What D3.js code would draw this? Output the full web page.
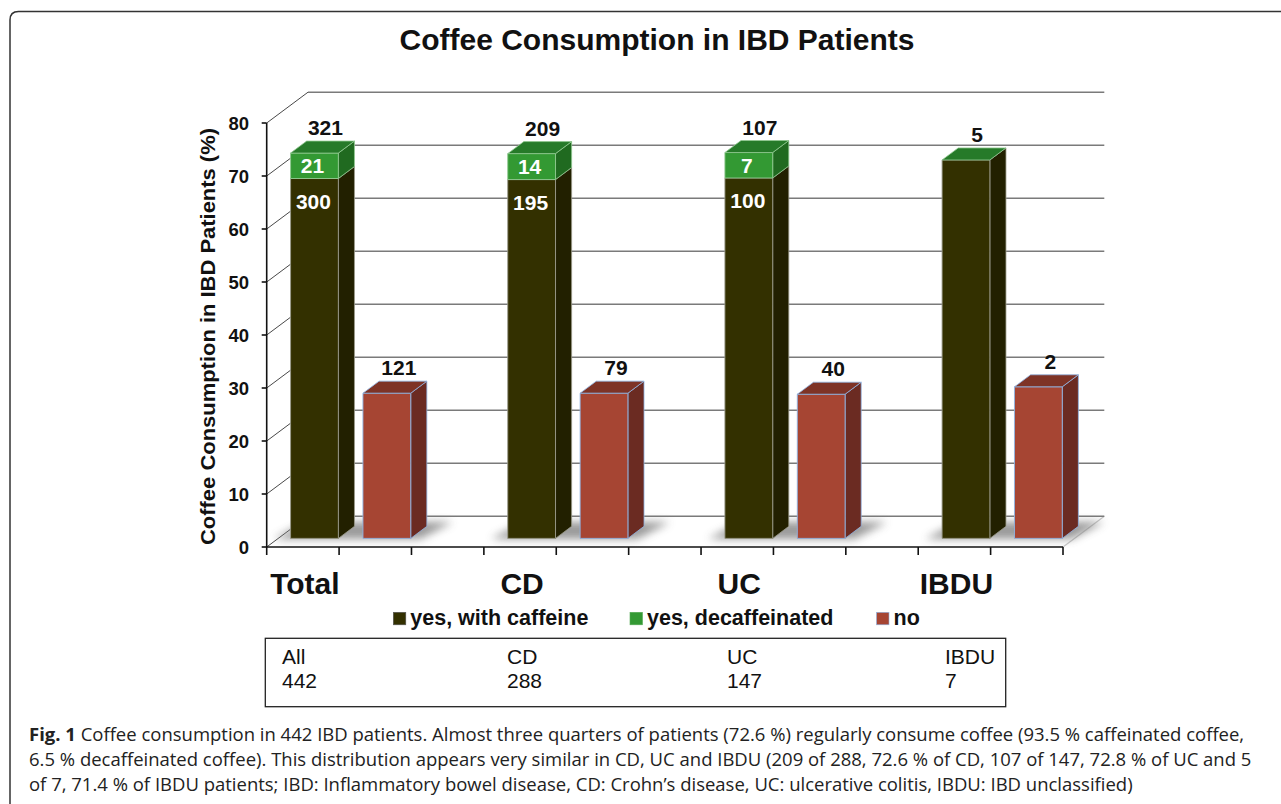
<!DOCTYPE html>
<html>
<head>
<meta charset="utf-8">
<script src="https://cdnjs.cloudflare.com/ajax/libs/d3/7.8.5/d3.min.js"></script>
<style>
  html, body { margin: 0; padding: 0; background: #fff; }
  svg { display: block; }
</style>
</head>
<body>
<svg id="chart" width="1281" height="804"></svg>
<script>
// ---------- data ----------
const categories   = ["Total", "CD", "UC", "IBDU"];
const caffeinePct  = [67.9, 67.7, 68.0, 71.4];   // % yes, with caffeine
const decafPct     = [4.8, 4.9, 4.8, 0];         // % yes, decaffeinated
const noPct        = [27.4, 27.4, 27.2, 28.6];   // % no
const yesTotalN    = [321, 209, 107, 5];
const caffeineN    = [300, 195, 100, null];
const decafN       = [21, 14, 7, null];
const noN          = [121, 79, 40, 2];
const yTicks       = [0, 10, 20, 30, 40, 50, 60, 70, 80];
const legendLabels = ["yes, with caffeine", "yes, decaffeinated", "no"];
const tableGroups  = ["All", "CD", "UC", "IBDU"];
const tableN       = [442, 288, 147, 7];
const titleText    = "Coffee Consumption in IBD Patients";
const yAxisTitle   = "Coffee Consumption in IBD Patients (%)";
const captionLines = [
  [["Fig. 1", true], ["Coffee consumption in 442 IBD patients. Almost three quarters of patients (72.6 %) regularly consume coffee (93.5 % caffeinated coffee,", false]],
  [["6.5 % decaffeinated coffee). This distribution appears very similar in CD, UC and IBDU (209 of 288, 72.6 % of CD, 107 of 147, 72.8 % of UC and 5", false]],
  [["of 7, 71.4 % of IBDU patients; IBD: Inflammatory bowel disease, CD: Crohn\u2019s disease, UC: ulcerative colitis, IBDU: IBD unclassified)", false]]
];

// ---------- layout ----------
const svg = d3.select("#chart");
const FONT = "'Liberation Sans', Arial, sans-serif";
const x0 = 266.7, x1 = 1063;
const slot = d3.scaleBand().domain(d3.range(11)).range([x0, x1]).paddingInner(0).paddingOuter(0);
const y = d3.scaleLinear().domain([0, 80]).range([547, 123]);
const DX = 41.3, DY = -30.8;          // floor depth vector
const T0 = 0.28, T1 = 0.67;           // bar depth span
const barFrac = 0.66;
const P = (x, v, t) => [x + t * DX, y(v) + t * DY];
const poly = pts => pts.map(p => p.join(",")).join(" ");

const col = {
  caf:  { front: "#333000", side: "#222000", top: "#2a2800", stroke: "#9a9a8a" },
  dec:  { front: "#339933", side: "#206a20", top: "#267a29", stroke: "#8fc88f" },
  no:   { front: "#a64533", side: "#6b2b22", top: "#7e3326", stroke: "#8eb4e3" }
};

// outer frame
svg.append("path")
  .attr("d", "M10,804 L10,20 Q10,11.5 18.5,11.5 L1281,11.5")
  .attr("fill", "none").attr("stroke", "#333").attr("stroke-width", 1.5);

// title
svg.append("text").attr("x", 657).attr("y", 50).attr("text-anchor", "middle")
  .attr("font-family", FONT).attr("font-weight", "bold").attr("font-size", 30)
  .attr("fill", "#111").text(titleText);

// defs: shadow blur
const defs = svg.append("defs");
defs.append("filter").attr("id", "blur").attr("x", "-50%").attr("y", "-50%").attr("width", "200%").attr("height", "200%")
  .append("feGaussianBlur").attr("stdDeviation", 4);

// floor right edge
svg.append("line")
  .attr("x1", P(x1, 0, 0)[0]).attr("y1", P(x1, 0, 0)[1])
  .attr("x2", P(x1, 0, 1)[0]).attr("y2", P(x1, 0, 1)[1])
  .attr("stroke", "#c8c8c8").attr("stroke-width", 1.2);

// gridlines: left wall diagonals + back wall
const grid = svg.append("g");
yTicks.forEach(v => {
  const a = P(x0, v, 0), b = P(x0, v, 1), c = P(x1, v, 1);
  grid.append("line").attr("x1", a[0]).attr("y1", a[1]).attr("x2", b[0]).attr("y2", b[1])
    .attr("stroke", "#333").attr("stroke-width", 0.9);
  grid.append("line").attr("x1", b[0]).attr("y1", b[1]).attr("x2", c[0]).attr("y2", c[1])
    .attr("stroke", "#7a7a7a").attr("stroke-width", 1.4);
});

// bars
function slotIndex(ci, k) { return ci * 3 + k; } // k=0 yes, k=1 no
function faceX(s) {
  const bw = slot.bandwidth(), w = bw * barFrac;
  const xl = slot(s) + (bw - w) / 2;
  return [xl, xl + w];
}
const shadowG = svg.append("g").attr("filter", "url(#blur)").attr("opacity", 0.8);
const barsG = svg.append("g");

function drawShadow(s) {
  const [xl, xr] = faceX(s);
  shadowG.append("polygon")
    .attr("points", poly([P(xl - 16, 0, T0 - 0.02), P(xr + 10, 0, T0 - 0.02), P(xr + 20, 0, T1 + 0.14), P(xl - 6, 0, T1 + 0.14)]))
    .attr("fill", "#808080");
}
function drawSegment(s, v0, v1, c, withTop, topColor) {
  const [xl, xr] = faceX(s);
  const g = barsG.append("g");
  if (v1 > v0) {
    g.append("polygon").attr("points", poly([P(xr, v0, T0), P(xr, v0, T1), P(xr, v1, T1), P(xr, v1, T0)]))
      .attr("fill", c.side).attr("stroke", c.stroke).attr("stroke-width", 0.8);
    g.append("polygon").attr("points", poly([P(xl, v0, T0), P(xr, v0, T0), P(xr, v1, T0), P(xl, v1, T0)]))
      .attr("fill", c.front).attr("stroke", c.stroke).attr("stroke-width", 0.9);
  }
  if (withTop) {
    g.append("polygon").attr("points", poly([P(xl, v1, T0), P(xr, v1, T0), P(xr, v1, T1), P(xl, v1, T1)]))
      .attr("fill", topColor).attr("stroke", c.stroke).attr("stroke-width", 0.8);
  }
}

categories.forEach((cat, i) => {
  drawShadow(slotIndex(i, 0)); drawShadow(slotIndex(i, 1));
});
categories.forEach((cat, i) => {
  const sy = slotIndex(i, 0), sn = slotIndex(i, 1);
  const caf = caffeinePct[i], dec = decafPct[i], tot = caf + dec;
  drawSegment(sy, 0, caf, col.caf, false);
  drawSegment(sy, caf, tot, col.dec, true, col.dec.top);
  drawSegment(sn, 0, noPct[i], col.no, true, col.no.top);
});

// value labels
const lab = svg.append("g").attr("font-family", FONT).attr("font-weight", "bold").attr("font-size", 21).attr("text-anchor", "middle");
categories.forEach((cat, i) => {
  const sy = slotIndex(i, 0), sn = slotIndex(i, 1);
  const [yl, yr] = faceX(sy), [nl, nr] = faceX(sn);
  const caf = caffeinePct[i], dec = decafPct[i], tot = caf + dec;
  const yc = (yl + yr) / 2 + T0 * DX, nc = (nl + nr) / 2 + T0 * DX;   // centre of the visible front face
  lab.append("text").attr("x", yc + 11).attr("y", P(0, tot, T1)[1] - 6).attr("fill", "#111").text(yesTotalN[i]);
  lab.append("text").attr("x", nc + 12).attr("y", P(0, noPct[i], T1)[1] - 6).attr("fill", "#111").text(noN[i]);
  if (decafN[i] != null) {
    const mid = (P(0, caf, T0)[1] + P(0, tot, T0)[1]) / 2;
    lab.append("text").attr("x", yc - 2).attr("y", mid + 7.5).attr("fill", "#fff").attr("font-size", 21).text(decafN[i]);
  }
  if (caffeineN[i] != null) {
    lab.append("text").attr("x", yc - 1).attr("y", P(0, caf, T0)[1] + 30).attr("fill", "#fff").attr("font-size", 21).text(caffeineN[i]);
  }
});

// axes
const ax = svg.append("g").attr("stroke", "#111").attr("stroke-width", 1.6);
ax.append("line").attr("x1", x0).attr("y1", y(0)).attr("x2", x0).attr("y2", y(80));
ax.append("line").attr("x1", x0).attr("y1", y(0)).attr("x2", x1).attr("y2", y(0));
yTicks.forEach(v => {
  ax.append("line").attr("x1", x0 - 5).attr("y1", y(v)).attr("x2", x0).attr("y2", y(v));
});
const xTickPos = slot.domain().map(d => slot(d)).concat([x1]);
xTickPos.forEach(xp => {
  ax.append("line").attr("x1", xp).attr("y1", y(0)).attr("x2", xp).attr("y2", y(0) + 8);
});
svg.append("g").attr("font-family", FONT).attr("font-weight", "bold").attr("font-size", 18.5)
  .attr("text-anchor", "end").attr("fill", "#111")
  .selectAll("text").data(yTicks).join("text")
  .attr("x", 249).attr("y", d => y(d) + 6.6).text(d => d);

// y axis title
svg.append("text")
  .attr("transform", `translate(215,${(128 + 545) / 2}) rotate(-90)`)
  .attr("text-anchor", "middle")
  .attr("font-family", FONT).attr("font-weight", "bold").attr("font-size", 20)
  .attr("textLength", 417).attr("lengthAdjust", "spacingAndGlyphs")
  .attr("fill", "#111").text(yAxisTitle);

// category labels
svg.append("g").attr("font-family", FONT).attr("font-weight", "bold").attr("font-size", 30)
  .attr("text-anchor", "middle").attr("fill", "#111")
  .selectAll("text").data(categories).join("text")
  .attr("x", (d, i) => slot(slotIndex(i, 0)) + slot.bandwidth() / 2 + 2)
  .attr("y", 594).text(d => d);

// legend
const legendItems = [
  { label: legendLabels[0], c: col.caf.front, s: "#555", x: 393.3 },
  { label: legendLabels[1], c: col.dec.front, s: "#5a5", x: 630 },
  { label: legendLabels[2], c: col.no.front, s: "#8eb4e3", x: 876.5 }
];
const lg = svg.append("g").attr("font-family", FONT).attr("font-weight", "bold").attr("font-size", 21.5).attr("fill", "#111");
legendItems.forEach(it => {
  lg.append("rect").attr("x", it.x).attr("y", 612.3).attr("width", 12.5).attr("height", 12.5)
    .attr("fill", it.c).attr("stroke", it.s).attr("stroke-width", 0.6);
  lg.append("text").attr("x", it.x + 17).attr("y", 625).text(it.label);
});

// table box
svg.append("rect").attr("x", 265.3).attr("y", 638.3).attr("width", 740.4).attr("height", 68.4)
  .attr("fill", "none").attr("stroke", "#222").attr("stroke-width", 1.3);
const tableX = [282, 507, 727, 945];
const tg = svg.append("g").attr("font-family", FONT).attr("font-size", 21).attr("fill", "#111");
tableGroups.forEach((g, i) => {
  tg.append("text").attr("x", tableX[i]).attr("y", 664).text(g);
  tg.append("text").attr("x", tableX[i]).attr("y", 688).text(tableN[i]);
});

// caption: plain text runs (no transforms); font size chosen so line 1 fills its measured width
const capStartX = 29, capLine1Len = 1216;
const capBase = [741, 766, 791];
const capFont = "'Open Sans', sans-serif";
// measure line 1 at 20px
const probe = svg.append("g");
let w20 = 0;
captionLines[0].forEach(([txt, bold], k) => {
  const t = probe.append("text").attr("font-family", capFont).attr("font-size", 20)
    .attr("font-weight", bold ? "bold" : "normal").text(txt);
  w20 += t.node().getComputedTextLength();
});
w20 += 20 * 0.26; // gap between runs
probe.remove();
const capSize = 20 * capLine1Len / w20;
const gap = capSize * 0.26;
captionLines.forEach((parts, li) => {
  let cx = capStartX;
  parts.forEach(([txt, bold], k) => {
    const t = svg.append("text").attr("x", cx).attr("y", capBase[li])
      .attr("font-family", capFont).attr("font-size", capSize)
      .attr("font-weight", bold ? "bold" : "normal").attr("fill", "#222").text(txt);
    cx += t.node().getComputedTextLength() + gap;
  });
});
</script>
</body>
</html>
